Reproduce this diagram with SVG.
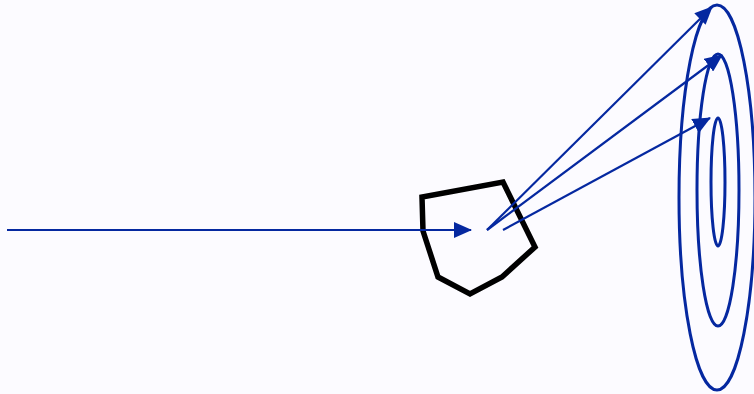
<svg xmlns="http://www.w3.org/2000/svg" width="754" height="394" viewBox="0 0 754 394">
<style>
.c{stroke:#0528a0;stroke-width:2.2;fill:none}
.e{stroke:#0528a0;stroke-width:3;fill:none}
</style>
<defs>
<marker id="ah" markerUnits="userSpaceOnUse" markerWidth="18" markerHeight="16" refX="17" refY="8" orient="auto">
<path d="M0,0 L18,8 L0,16 Z" fill="#0528a0"/>
</marker>
</defs>
<rect width="754" height="394" fill="#fcfbff"/>
<g id="target">
<ellipse class="e" cx="717" cy="197.5" rx="38" ry="192.5"/>
<ellipse class="e" cx="718" cy="190" rx="21" ry="136"/>
<ellipse class="e" cx="718" cy="182" rx="7" ry="64"/>
</g>
<g id="object">
<polygon points="423,231 438,277 470,294 502,277 535,247 503,182 422,197" fill="none" stroke="#000" stroke-width="5.5" stroke-linejoin="miter"/>
</g>
<g id="connectors">
<line class="c" x1="7" y1="230" x2="471" y2="230" marker-end="url(#ah)"/>
<line class="c" x1="487" y1="230" x2="712" y2="7" marker-end="url(#ah)"/>
<line class="c" x1="487" y1="230" x2="722" y2="55" marker-end="url(#ah)"/>
<line class="c" x1="503" y1="230" x2="710" y2="118" marker-end="url(#ah)"/>
</g>
</svg>
